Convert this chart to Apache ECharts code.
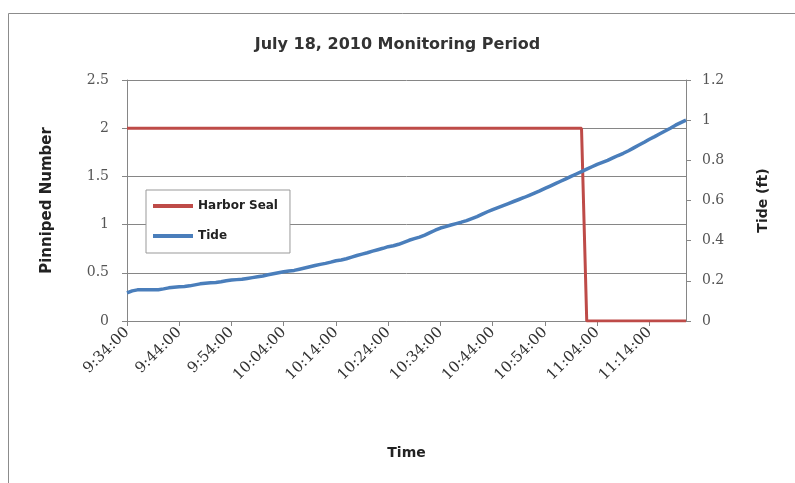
<!DOCTYPE html>
<html>
<head>
<meta charset="utf-8">
<title>July 18, 2010 Monitoring Period</title>
<script src="https://cdn.jsdelivr.net/npm/echarts@6/dist/echarts.min.js"></script>
<style>
    html, body { margin: 0; padding: 0; background: #fff; }
    #chart { width: 795px; height: 483px; }
</style>
</head>
<body>
<div id="chart"></div>
<script>
// 数据：每分钟一个点，9:34:00 起
const startHour = 9
const startMinute = 34
const minuteCount = 108

const harborSeal = [
    2, 2, 2, 2, 2, 2, 2, 2, 2, 2,
    2, 2, 2, 2, 2, 2, 2, 2, 2, 2,
    2, 2, 2, 2, 2, 2, 2, 2, 2, 2,
    2, 2, 2, 2, 2, 2, 2, 2, 2, 2,
    2, 2, 2, 2, 2, 2, 2, 2, 2, 2,
    2, 2, 2, 2, 2, 2, 2, 2, 2, 2,
    2, 2, 2, 2, 2, 2, 2, 2, 2, 2,
    2, 2, 2, 2, 2, 2, 2, 2, 2, 2,
    2, 2, 2, 2, 2, 2, 2, 2, 0, 0,
    0, 0, 0, 0, 0, 0, 0, 0, 0, 0,
    0, 0, 0, 0, 0, 0, 0, 0
]

const tide = [
    0.140, 0.150, 0.155, 0.155, 0.155, 0.155, 0.156, 0.160, 0.165, 0.168,
    0.170, 0.172, 0.175, 0.180, 0.185, 0.188, 0.190, 0.192, 0.195, 0.200,
    0.204, 0.206, 0.208, 0.212, 0.216, 0.220, 0.224, 0.230, 0.235, 0.240,
    0.245, 0.249, 0.252, 0.258, 0.264, 0.270, 0.276, 0.282, 0.287, 0.293,
    0.300, 0.304, 0.310, 0.318, 0.326, 0.333, 0.340, 0.348, 0.355, 0.362,
    0.370, 0.375, 0.382, 0.392, 0.402, 0.410, 0.418, 0.428, 0.440, 0.452,
    0.463, 0.470, 0.478, 0.485, 0.492, 0.500, 0.510, 0.520, 0.532, 0.544,
    0.555, 0.565, 0.575, 0.585, 0.595, 0.605, 0.615, 0.626, 0.637, 0.648,
    0.660, 0.672, 0.684, 0.696, 0.708, 0.720, 0.732, 0.744, 0.756, 0.768,
    0.780, 0.790, 0.800, 0.812, 0.824, 0.835, 0.848, 0.862, 0.876, 0.890,
    0.905, 0.918, 0.932, 0.946, 0.960, 0.975, 0.988, 1.000
]

// 时间类目 h:mm:ss
const times = []
for (let i = 0; i < minuteCount; i++) {
    const total = startHour * 60 + startMinute + i
    const h = Math.floor(total / 60)
    const m = total % 60
    times.push(h + ':' + (m < 10 ? '0' + m : m) + ':00')
}

const axisGray = '#868686'
const sansFont = 'DejaVu Sans'
const serifFont = 'DejaVu Serif'

const chart = echarts.init(document.getElementById('chart'))
const option = {
    backgroundColor: '#fff',
    animation: false,
    title: {
        text: 'July 18, 2010 Monitoring Period',
        left: 'center',
        top: 32,
        textStyle: {
            fontFamily: sansFont,
            fontSize: 16,
            fontWeight: 'bold',
            color: '#333'
        }
    },
    graphic: [
        {
            type: 'rect',
            shape: { x: 8.5, y: 13.5, width: 820, height: 500 },
            style: { fill: 'none', stroke: '#8c8c8c', lineWidth: 1 },
            silent: true
        }
    ],
    legend: {
        orient: 'vertical',
        left: 146,
        top: 190,
        padding: [10, 12, 11, 7],
        itemGap: 18,
        itemWidth: 40,
        itemHeight: 4,
        icon: 'rect',
        backgroundColor: '#fff',
        borderColor: '#999',
        borderWidth: 1,
        textStyle: {
            fontFamily: sansFont,
            fontSize: 12,
            fontWeight: 'bold',
            color: '#222'
        },
        data: ['Harbor Seal', 'Tide']
    },
    grid: {
        left: 127,
        right: 109,
        top: 80,
        bottom: 162
    },
    xAxis: {
        type: 'category',
        data: times,
        boundaryGap: false,
        name: 'Time',
        nameLocation: 'middle',
        nameGap: 125,
        nameTextStyle: {
            fontFamily: sansFont,
            fontSize: 14,
            fontWeight: 'bold',
            color: '#222'
        },
        axisLine: { lineStyle: { color: axisGray } },
        axisTick: { interval: 9, length: 5, lineStyle: { color: axisGray } },
        axisLabel: {
            interval: 9,
            rotate: 45,
            margin: 9,
            fontFamily: serifFont,
            fontSize: 15,
            color: '#333'
        },
        splitLine: { show: false }
    },
    yAxis: [
        {
            type: 'value',
            min: 0,
            max: 2.5,
            interval: 0.5,
            name: 'Pinniped Number',
            nameLocation: 'middle',
            nameRotate: 90,
            nameGap: 72,
            nameTextStyle: {
                fontFamily: sansFont,
                fontSize: 15,
                fontWeight: 'bold',
                color: '#222'
            },
            axisLine: { show: true, lineStyle: { color: axisGray } },
            axisTick: { show: true, length: 5, lineStyle: { color: axisGray } },
            axisLabel: {
                margin: 18,
                fontFamily: serifFont,
                fontSize: 14,
                color: '#555'
            },
            splitLine: { lineStyle: { color: axisGray, width: 1 } }
        },
        {
            type: 'value',
            min: 0,
            max: 1.2,
            interval: 0.2,
            position: 'right',
            name: 'Tide (ft)',
            nameLocation: 'middle',
            nameRotate: 90,
            nameGap: 70,
            nameTextStyle: {
                fontFamily: sansFont,
                fontSize: 14,
                fontWeight: 'bold',
                color: '#222'
            },
            axisLine: { show: true, lineStyle: { color: axisGray } },
            axisTick: { show: true, length: 5, lineStyle: { color: axisGray } },
            axisLabel: {
                margin: 16,
                fontFamily: serifFont,
                fontSize: 14,
                color: '#555'
            },
            splitLine: { show: false }
        }
    ],
    series: [
        {
            name: 'Harbor Seal',
            type: 'line',
            yAxisIndex: 0,
            data: harborSeal,
            symbol: 'none',
            color: '#BE4B48',
            lineStyle: { color: '#BE4B48', width: 3 }
        },
        {
            name: 'Tide',
            type: 'line',
            yAxisIndex: 1,
            data: tide,
            symbol: 'none',
            color: '#4A7EBB',
            lineStyle: { color: '#4A7EBB', width: 3.5 }
        }
    ]
}

chart.setOption(option)
window.addEventListener('resize', () => {
    chart.resize()
})
</script>
</body>
</html>
